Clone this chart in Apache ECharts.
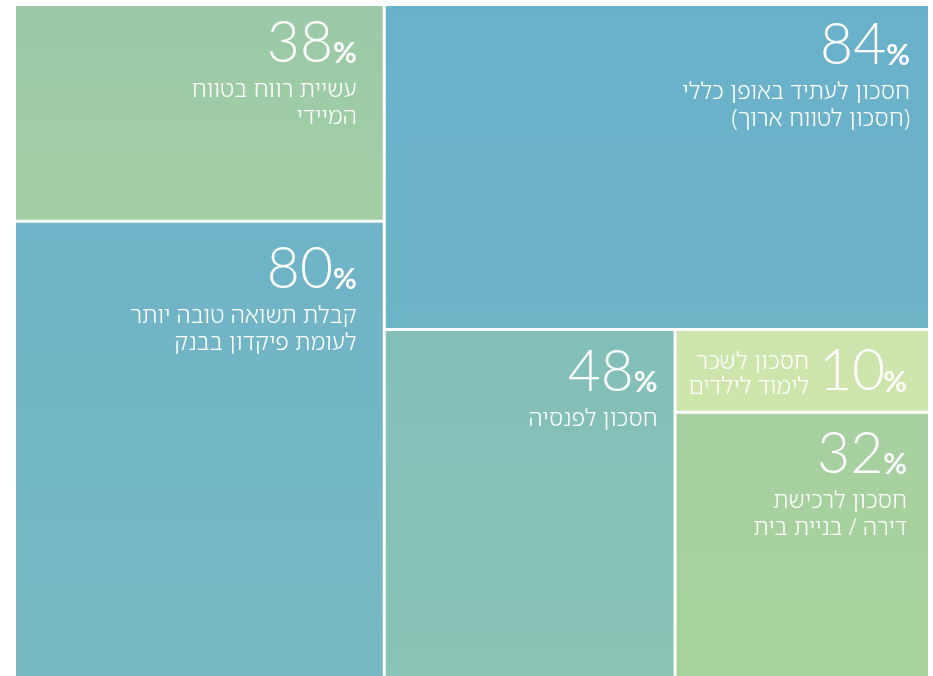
<!DOCTYPE html>
<html>
<head>
<meta charset="utf-8">
<script src="https://cdn.jsdelivr.net/npm/echarts@6/dist/echarts.min.js"></script>
<style>
  html, body { margin: 0; padding: 0; background: #fff; }
  #chart { width: 933px; height: 676px; }
</style>
</head>
<body>
<div id="chart"></div>
<script>
// percent values, one per block
const values = [38, 80, 84, 48, 10, 32];

// caption lines under each number
const captions = [
  ['עשיית רווח בטווח', 'המיידי'],
  ['קבלת תשואה טובה יותר', 'לעומת פיקדון בבנק'],
  ['חסכון לעתיד באופן כללי', '(חסכון לטווח ארוך)'],
  ['חסכון לפנסיה'],
  ['חסכון לשכר', 'לימוד לילדים'],
  ['חסכון לרכישת', 'דירה / בניית בית']
];

// how the blocks are grouped (indexes into values)
const groups = [[0, 1], [2, [3, [4, 5]]]];

// styling, kept apart from the data
const fills = [
  ['#9bc9a8', '#a2cfa3'],
  ['#6eb3c7', '#79bac2'],
  ['#69b1cb', '#6eb4c7'],
  ['#82bfb9', '#89c3b5'],
  ['#cde4ad', '#cee5ab'],
  ['#a6d0a0', '#a7d39b']
];
const pads = [[10, 26], [19, 26], [12, 18], [14, 16], [19, 21], [13, 21]];

const HEB = '"Noto Sans Hebrew", "Open Sans", sans-serif';
const NUM = 'Lato, "Open Sans", sans-serif';

function build(item) {
  if (Array.isArray(item)) {
    return { name: '', children: item.map(build) };
  }
  const i = item;
  return {
    name: captions[i].join(' '),
    value: values[i],
    idx: i,
    itemStyle: {
      color: new echarts.graphic.LinearGradient(0, 0, 0, 1, [
        { offset: 0, color: fills[i][0] },
        { offset: 1, color: fills[i][1] }
      ])
    },
    label: { padding: [pads[i][0], pads[i][1], 0, 0] }
  };
}

function labelText(p) {
  const i = p.data.idx;
  if (values[i] < 15) {
    // small block: number beside the caption
    return '{tx2|' + captions[i][0] + '}{nb|' + values[i] + '}{pc2|%}\n' +
           '{tx2|' + captions[i][1] + '}{gap|}';
  }
  const lines = ['{num|' + values[i] + '}{pc|%}'];
  captions[i].forEach(t => lines.push('{tx|' + t + '}'));
  return lines.join('\n');
}

const chart = echarts.init(document.getElementById('chart'));

chart.setOption({
  backgroundColor: '#fff',
  series: [{
    type: 'treemap',
    left: 16,
    top: 6,
    right: 5,
    bottom: 0,
    sort: false,
    squareRatio: 1,
    roam: false,
    nodeClick: false,
    breadcrumb: { show: false },
    itemStyle: {
      borderWidth: 0,
      gapWidth: 3,
      borderColor: '#fff'
    },
    label: {
      show: true,
      position: 'insideTopRight',
      distance: 0,
      align: 'right',
      color: '#fff',
      formatter: labelText,
      rich: {
        num: {
          fontFamily: NUM, fontWeight: 300, fontSize: 57, color: '#fff',
          lineHeight: 61, height: 56, verticalAlign: 'top', align: 'right'
        },
        pc: {
          fontFamily: NUM, fontWeight: 'bold', fontSize: 29, color: '#fff',
          lineHeight: 61, height: 76, verticalAlign: 'top', align: 'right'
        },
        tx: {
          fontFamily: HEB, fontWeight: 300, fontSize: 23, color: '#fff',
          lineHeight: 27, align: 'right'
        },
        tx2: {
          fontFamily: HEB, fontWeight: 300, fontSize: 23, color: '#fff',
          lineHeight: 25, align: 'right'
        },
        nb: {
          fontFamily: NUM, fontWeight: 300, fontSize: 57, color: '#fff',
          lineHeight: 25, height: 43, width: 76, verticalAlign: 'top', align: 'right'
        },
        pc2: {
          fontFamily: NUM, fontWeight: 'bold', fontSize: 29, color: '#fff',
          lineHeight: 25, height: 65, width: 22, verticalAlign: 'top', align: 'right'
        },
        gap: { width: 98, lineHeight: 25, align: 'right' }
      }
    },
    upperLabel: { show: false },
    emphasis: { disabled: true },
    data: groups.map(build)
  }]
});
</script>
</body>
</html>
